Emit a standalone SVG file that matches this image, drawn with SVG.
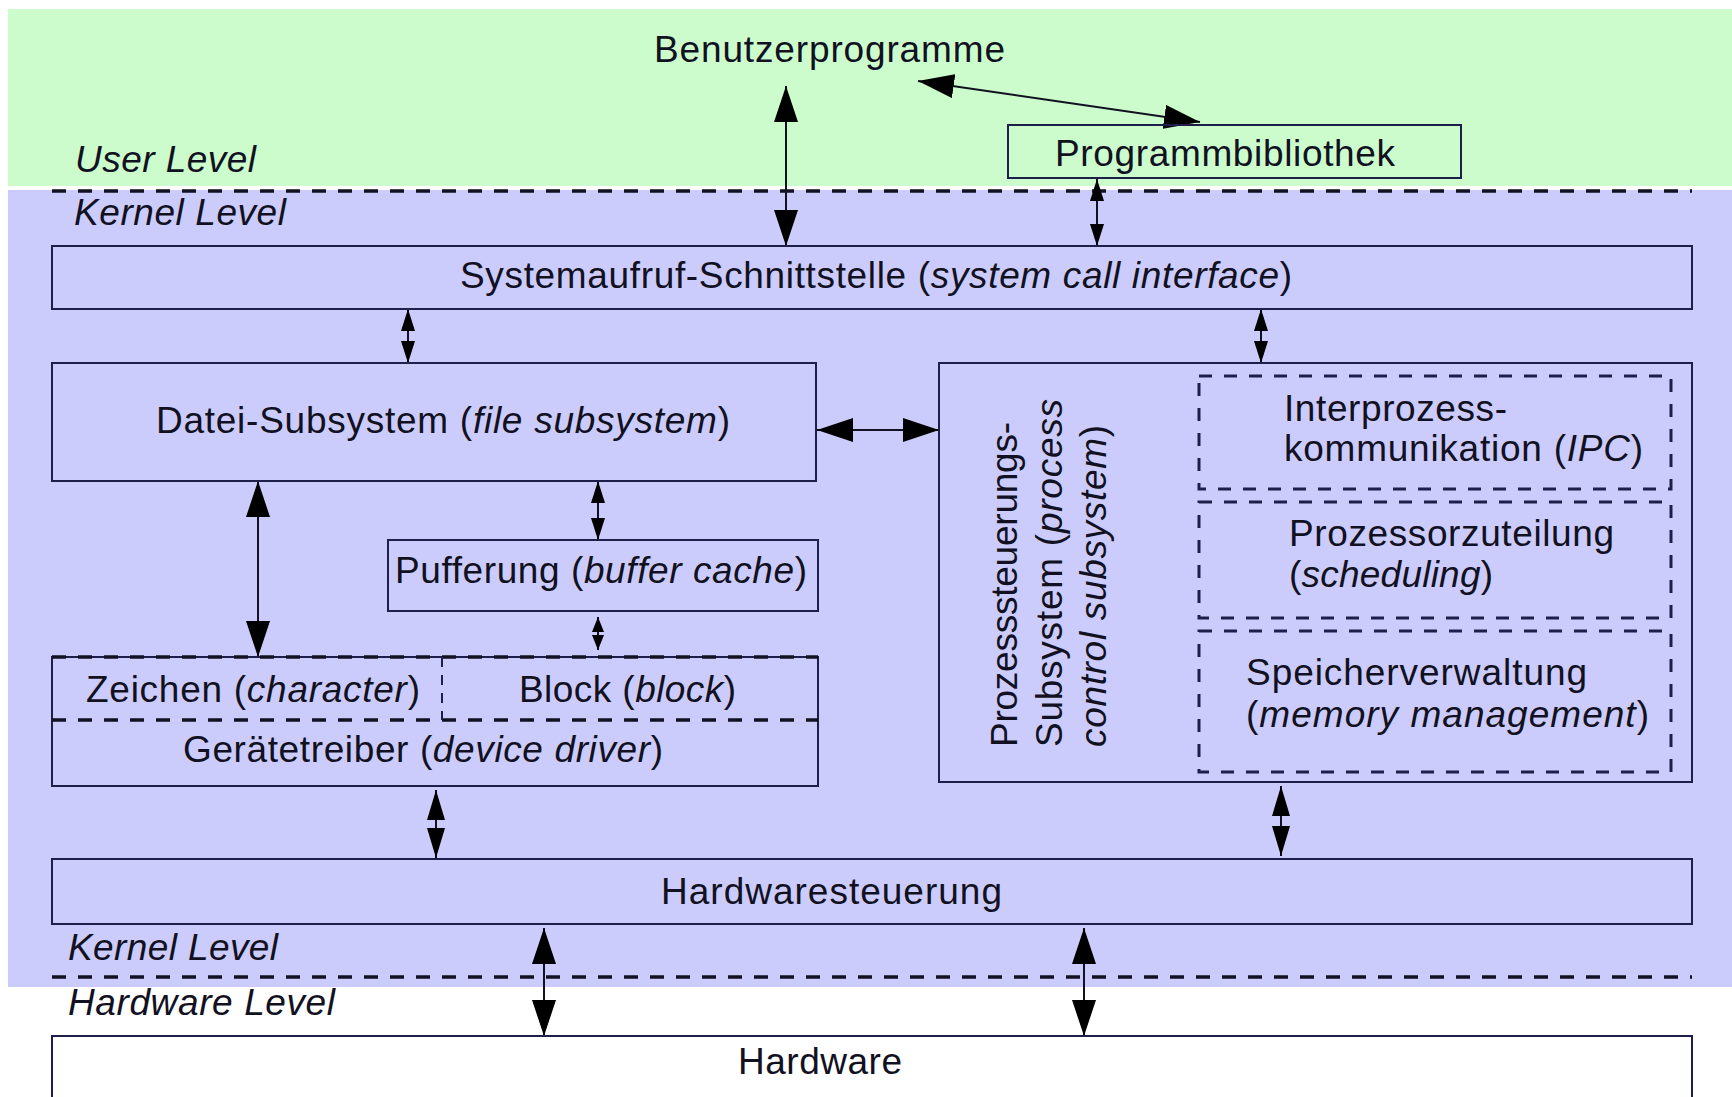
<svg xmlns="http://www.w3.org/2000/svg" width="1732" height="1097" viewBox="0 0 1732 1097">
<style>
.t{font-family:"Liberation Sans",Arial,sans-serif;font-size:37px;fill:#111122}
.i{font-style:italic}
.box{fill:none;stroke:#1e1e4a;stroke-width:2}
.lvl{stroke:#111122;stroke-width:3.5;stroke-dasharray:14 12;fill:none}
.sub{fill:none;stroke:#1e1e4a;stroke-width:3;stroke-dasharray:13 12}
.c{stroke:#111122;stroke-width:2;fill:none}
</style>
<defs>
<marker id="big" markerUnits="userSpaceOnUse" markerWidth="36" markerHeight="24" viewBox="0 0 36 24" refX="36" refY="12" orient="auto-start-reverse"><path d="M0,0 L36,12 L0,24 z" fill="#000"/></marker>
<marker id="med" markerUnits="userSpaceOnUse" markerWidth="30" markerHeight="18" viewBox="0 0 30 18" refX="30" refY="9" orient="auto-start-reverse"><path d="M0,0 L30,9 L0,18 z" fill="#000"/></marker>
<marker id="sml" markerUnits="userSpaceOnUse" markerWidth="22" markerHeight="14" viewBox="0 0 22 14" refX="22" refY="7" orient="auto-start-reverse"><path d="M0,0 L22,7 L0,14 z" fill="#000"/></marker>
<marker id="tiny" markerUnits="userSpaceOnUse" markerWidth="15" markerHeight="12" viewBox="0 0 15 12" refX="15" refY="6" orient="auto-start-reverse"><path d="M0,0 L15,6 L0,12 z" fill="#000"/></marker>
</defs>
<rect width="1732" height="1097" fill="#ffffff"/>
<g id="levels">
<rect x="8" y="9" width="1724" height="177" fill="#ccfccc"/>
<rect x="8" y="190" width="1724" height="797" fill="#ccccfc"/>
<line class="lvl" x1="52" y1="191" x2="1692" y2="191"/>
<line class="lvl" x1="52" y1="977" x2="1692" y2="977"/>
<text class="t i" x="75" y="172" textLength="181">User Level</text>
<text class="t i" x="74" y="225" textLength="212">Kernel Level</text>
<text class="t i" x="68" y="960" textLength="210">Kernel Level</text>
<text class="t i" x="68" y="1015" textLength="267">Hardware Level</text>
</g>
<g id="connectors">
<line class="c" x1="786" y1="86" x2="786" y2="246" marker-start="url(#big)" marker-end="url(#big)"/>
<line class="c" x1="918" y1="81" x2="1200" y2="122" stroke-width="4" marker-start="url(#big)" marker-end="url(#big)"/>
<line class="c" x1="1097" y1="179" x2="1097" y2="246" marker-start="url(#sml)" marker-end="url(#sml)"/>
<line class="c" x1="408" y1="309" x2="408" y2="363" marker-start="url(#sml)" marker-end="url(#sml)"/>
<line class="c" x1="1261" y1="309" x2="1261" y2="363" marker-start="url(#sml)" marker-end="url(#sml)"/>
<line class="c" x1="817" y1="430" x2="939" y2="430" marker-start="url(#big)" marker-end="url(#big)"/>
<line class="c" x1="258" y1="481" x2="258" y2="657" marker-start="url(#big)" marker-end="url(#big)"/>
<line class="c" x1="598" y1="481" x2="598" y2="540" marker-start="url(#sml)" marker-end="url(#sml)"/>
<line class="c" x1="598" y1="617" x2="598" y2="650" marker-start="url(#tiny)" marker-end="url(#tiny)"/>
<line class="c" x1="436" y1="790" x2="436" y2="858" marker-start="url(#med)" marker-end="url(#med)"/>
<line class="c" x1="1281" y1="786" x2="1281" y2="856" marker-start="url(#med)" marker-end="url(#med)"/>
<line class="c" x1="544" y1="928" x2="544" y2="1036" marker-start="url(#big)" marker-end="url(#big)"/>
<line class="c" x1="1084" y1="928" x2="1084" y2="1036" marker-start="url(#big)" marker-end="url(#big)"/>
</g>
<g id="benutzerprogramme">
<text class="t" x="654" y="62" textLength="351">Benutzerprogramme</text>
</g>
<g id="programmbibliothek">
<rect class="box" x="1008" y="125" width="453" height="53"/>
<text class="t" x="1055" y="166" textLength="340">Programmbibliothek</text>
</g>
<g id="systemaufruf">
<rect class="box" x="52" y="246" width="1640" height="63"/>
<text class="t" x="460" y="288" textLength="832">Systemaufruf-Schnittstelle (<tspan class="i">system call interface</tspan>)</text>
</g>
<g id="datei">
<rect class="box" x="52" y="363" width="764" height="118"/>
<text class="t" x="156" y="433" textLength="574">Datei-Subsystem (<tspan class="i">file subsystem</tspan>)</text>
</g>
<g id="pufferung">
<rect class="box" x="388" y="540" width="430" height="71"/>
<text class="t" x="395" y="583" textLength="412">Pufferung (<tspan class="i">buffer cache</tspan>)</text>
</g>
<g id="geraetetreiber">
<rect class="box" x="52" y="657" width="766" height="129"/>
<line class="lvl" x1="52" y1="657" x2="818" y2="657"/>
<line class="lvl" x1="52" y1="720" x2="818" y2="720"/>
<line x1="442" y1="657" x2="442" y2="720" stroke="#1e1e4a" stroke-width="2" stroke-dasharray="10 8"/>
<text class="t" x="86" y="702" textLength="334">Zeichen (<tspan class="i">character</tspan>)</text>
<text class="t" x="519" y="702" textLength="217">Block (<tspan class="i">block</tspan>)</text>
<text class="t" x="183" y="762" textLength="480">Gerätetreiber (<tspan class="i">device driver</tspan>)</text>
</g>
<g id="prozesssteuerung">
<rect class="box" x="939" y="363" width="753" height="419"/>
<text class="t" transform="translate(1017,747) rotate(-90)" x="0" y="0" textLength="325">Prozesssteuerungs-</text>
<text class="t" transform="translate(1062,747) rotate(-90)" x="0" y="0" textLength="348">Subsystem (<tspan class="i">process</tspan></text>
<text class="t" transform="translate(1106,747) rotate(-90)" x="0" y="0" textLength="322"><tspan class="i">control subsystem</tspan>)</text>
</g>
<g id="ipc">
<rect class="sub" x="1199" y="376" width="472" height="113"/>
<text class="t" x="1284" y="421" textLength="223">Interprozess-</text>
<text class="t" x="1284" y="461" textLength="359">kommunikation (<tspan class="i">IPC</tspan>)</text>
</g>
<g id="scheduling">
<rect class="sub" x="1199" y="502" width="472" height="116"/>
<text class="t" x="1289" y="546" textLength="325">Prozessorzuteilung</text>
<text class="t" x="1289" y="587" textLength="204">(<tspan class="i">scheduling</tspan>)</text>
</g>
<g id="speicher">
<rect class="sub" x="1199" y="631" width="472" height="141"/>
<text class="t" x="1246" y="685" textLength="341">Speicherverwaltung</text>
<text class="t" x="1246" y="727" textLength="403">(<tspan class="i">memory management</tspan>)</text>
</g>
<g id="hardwaresteuerung">
<rect class="box" x="52" y="859" width="1640" height="65"/>
<text class="t" x="661" y="904" textLength="341">Hardwaresteuerung</text>
</g>
<g id="hardware">
<rect x="52" y="1036" width="1640" height="80" fill="#ffffff" stroke="#1e1e4a" stroke-width="2"/>
<text class="t" x="738" y="1074" textLength="164">Hardware</text>
</g>
</svg>
